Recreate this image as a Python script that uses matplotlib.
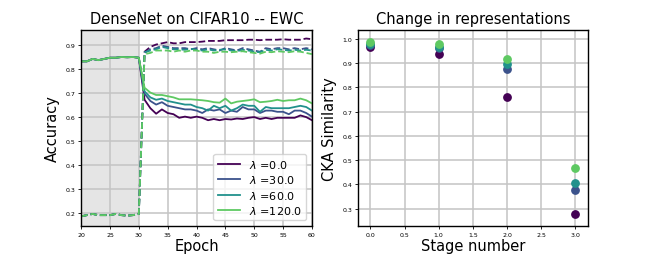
import matplotlib
matplotlib.use('Agg')
import matplotlib.pyplot as plt
import numpy as np

# epochs 20..60, first task until epoch 30 (same for every lambda)
epochs = np.arange(20, 61)
lambdas = [0.0, 30.0, 60.0, 120.0]
colors = ['#440154', '#3b528b', '#21918c', '#5ec962']

pre_task1 = [0.83, 0.83, 0.84, 0.835, 0.84, 0.845, 0.845, 0.848, 0.847, 0.848, 0.845]
pre_task2 = [0.185, 0.19, 0.195, 0.19, 0.19, 0.19, 0.195, 0.19, 0.188, 0.19, 0.195]

# accuracy on task 1 after switching (epochs 31..60)
task1_after = [
    [0.67, 0.635, 0.612, 0.63, 0.615, 0.61, 0.595, 0.6, 0.595, 0.6,
     0.595, 0.585, 0.59, 0.585, 0.59, 0.588, 0.592, 0.59, 0.595, 0.598,
     0.59, 0.595, 0.59, 0.595, 0.595, 0.595, 0.595, 0.605, 0.598, 0.585],
    [0.695, 0.665, 0.65, 0.66, 0.645, 0.64, 0.635, 0.63, 0.63, 0.625,
     0.615, 0.63, 0.625, 0.63, 0.615, 0.625, 0.62, 0.64, 0.63, 0.63,
     0.615, 0.625, 0.625, 0.62, 0.62, 0.61, 0.625, 0.625, 0.615, 0.6],
    [0.705, 0.68, 0.67, 0.675, 0.665, 0.66, 0.655, 0.65, 0.65, 0.64,
     0.635, 0.625, 0.645, 0.635, 0.645, 0.625, 0.635, 0.65, 0.645, 0.645,
     0.62, 0.64, 0.635, 0.635, 0.635, 0.635, 0.64, 0.645, 0.64, 0.625],
    [0.72, 0.7, 0.69, 0.69, 0.685, 0.68, 0.672, 0.672, 0.672, 0.67,
     0.668, 0.665, 0.66, 0.658, 0.675, 0.655, 0.662, 0.665, 0.668, 0.672,
     0.66, 0.662, 0.665, 0.67, 0.665, 0.668, 0.668, 0.675, 0.668, 0.655],
]
# accuracy on task 2 (dashed)
task2_after = [
    [0.87, 0.89, 0.9, 0.905, 0.91, 0.905, 0.905, 0.91, 0.91, 0.91,
     0.912, 0.915, 0.915, 0.915, 0.918, 0.918, 0.918, 0.918, 0.92, 0.92,
     0.918, 0.92, 0.92, 0.92, 0.922, 0.92, 0.92, 0.92, 0.925, 0.922],
    [0.865, 0.88, 0.885, 0.895, 0.89, 0.885, 0.885, 0.885, 0.88, 0.885,
     0.88, 0.885, 0.88, 0.875, 0.885, 0.88, 0.875, 0.885, 0.88, 0.875,
     0.87, 0.885, 0.88, 0.885, 0.885, 0.88, 0.885, 0.88, 0.885, 0.88],
    [0.868, 0.875, 0.88, 0.89, 0.885, 0.88, 0.88, 0.878, 0.882, 0.878,
     0.875, 0.88, 0.875, 0.878, 0.88, 0.875, 0.872, 0.878, 0.875, 0.87,
     0.868, 0.878, 0.875, 0.88, 0.878, 0.875, 0.878, 0.875, 0.878, 0.875],
    [0.86, 0.865, 0.875, 0.875, 0.875, 0.87, 0.875, 0.87, 0.875, 0.875,
     0.87, 0.87, 0.865, 0.87, 0.87, 0.868, 0.87, 0.872, 0.868, 0.865,
     0.862, 0.87, 0.868, 0.872, 0.87, 0.868, 0.872, 0.87, 0.865, 0.86],
]

stages = [0, 1, 2, 3]
cka = [
    [0.967, 0.9385, 0.76, 0.279],
    [0.975, 0.962, 0.876, 0.378],
    [0.98, 0.966, 0.896, 0.406],
    [0.989, 0.978, 0.917, 0.467],
]

fig = plt.figure(figsize=(6.54, 2.55), dpi=100)
ax1 = fig.add_axes([0.124, 0.11, 0.353, 0.769])
ax2 = fig.add_axes([0.547, 0.11, 0.352, 0.769])

ax1.axvspan(20, 30, color='gray', alpha=0.2, lw=0)
for k in range(len(lambdas)):
    y1 = pre_task1 + task1_after[k]
    y2 = pre_task2 + task2_after[k]
    ax1.plot(epochs, y1, color=colors[k], lw=1.3, label=r'$\lambda$ =' + str(lambdas[k]))
    ax1.plot(epochs, y2, color=colors[k], lw=1.3, ls='--')
ax1.set_xlim(20, 60)
ax1.set_ylim(0.145, 0.961)
ax1.set_title('DenseNet on CIFAR10 -- EWC', fontsize=10.5, pad=5)
ax1.set_xlabel('Epoch', fontsize=10.5, labelpad=1)
ax1.set_ylabel('Accuracy', fontsize=10.5, labelpad=4)
ax1.legend(loc='lower right', fontsize=8, handlelength=2, borderpad=0.4, labelspacing=0.3)

for k in range(len(lambdas)):
    ax2.scatter(stages, cka[k], color=colors[k], s=28, zorder=3)
ax2.set_xlim(-0.186, 3.186)
ax2.set_ylim(0.229, 1.037)
ax2.set_title('Change in representations', fontsize=10.5, pad=5)
ax2.set_xlabel('Stage number', fontsize=10.5, labelpad=1)
ax2.set_ylabel('CKA Similarity', fontsize=10.5, labelpad=4)

for ax in (ax1, ax2):
    ax.grid(True, color='#c4c4c4', lw=1.1)
    ax.tick_params(labelsize=4.5, length=2, width=0.6, pad=2)
    for sp in ax.spines.values():
        sp.set_linewidth(1.0)

fig.savefig('out.png', dpi=100)
